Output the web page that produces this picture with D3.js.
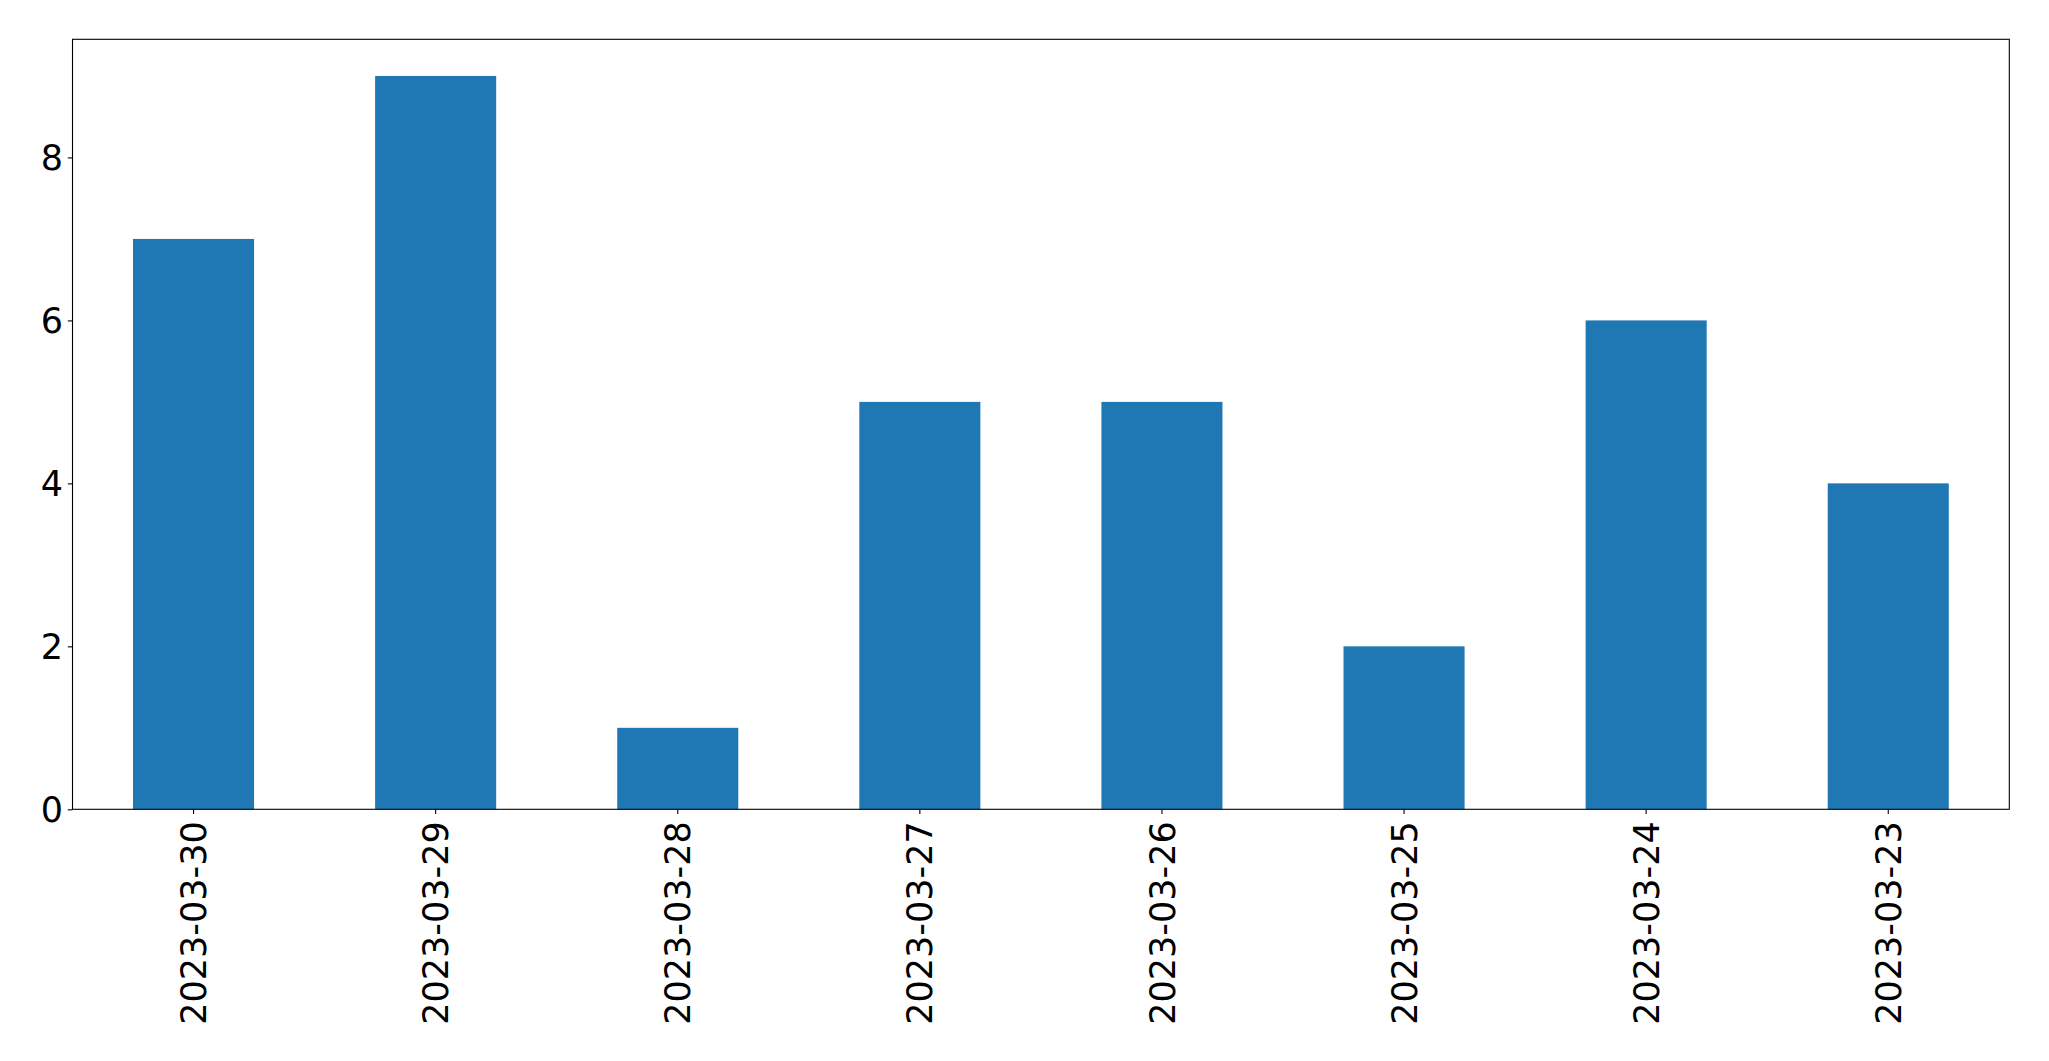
<!DOCTYPE html>
<html>
<head>
<meta charset="utf-8">
<script src="https://cdn.jsdelivr.net/npm/d3@7"></script>
<style>
  body { margin: 0; background: #fff; }
  text { font-family: "DejaVu Sans", sans-serif; fill: #000; }
</style>
</head>
<body>
<div id="chart"></div>
<script>
"use strict";

// data
var dates = ["2023-03-30", "2023-03-29", "2023-03-28", "2023-03-27",
             "2023-03-26", "2023-03-25", "2023-03-24", "2023-03-23"];
var counts = [7, 9, 1, 5, 5, 2, 6, 4];
var yTicks = [0, 2, 4, 6, 8];

var W = 2049, H = 1061;
var margin = {top: 39.3, right: 2049 - 2009.3, bottom: 1061 - 809.3, left: 72.5},
    width = W - margin.left - margin.right,
    height = H - margin.top - margin.bottom;

var svg = d3.select("#chart").append("svg")
    .attr("width", W)
    .attr("height", H)
  .append("g")
    .attr("transform", "translate(" + margin.left + "," + margin.top + ")");

var x = d3.scaleBand()
    .domain(dates)
    .range([0, width])
    .paddingInner(0.5)
    .paddingOuter(0.25);

var y = d3.scaleLinear()
    .domain([0, d3.max(counts) * 1.05])
    .range([height, 0]);

// bars
svg.selectAll(".bar")
    .data(dates)
  .enter().append("rect")
    .attr("class", "bar")
    .attr("x", function(d) { return x(d); })
    .attr("width", x.bandwidth())
    .attr("y", function(d, i) { return y(counts[i]); })
    .attr("height", function(d, i) { return height - y(counts[i]); })
    .attr("fill", "#1f77b4");

var fontSize = "35px";

// y axis
var yAxis = svg.append("g")
    .call(d3.axisLeft(y).tickValues(yTicks).tickFormat(d3.format("d"))
      .tickSize(4.7).tickPadding(4.7));
yAxis.select(".domain").remove();
yAxis.selectAll("line").attr("stroke", "#000").attr("stroke-width", 1.1);
yAxis.selectAll("text").style("font-size", fontSize).attr("dy", "0.35em");

// x axis
var xAxis = svg.append("g")
    .attr("transform", "translate(0," + height + ")")
    .call(d3.axisBottom(x).tickSize(4.7).tickPadding(0));
xAxis.select(".domain").remove();
xAxis.selectAll("line").attr("stroke", "#000").attr("stroke-width", 1.1);
xAxis.selectAll("text")
    .style("font-size", fontSize)
    .attr("text-anchor", "end")
    .attr("transform", "rotate(-90)")
    .attr("x", -12)
    .attr("y", 0)
    .attr("dy", "0.36em");

// frame
svg.append("rect")
    .attr("x", 0).attr("y", 0)
    .attr("width", width).attr("height", height)
    .attr("fill", "none")
    .attr("stroke", "#000")
    .attr("stroke-width", 1.1);
</script>
</body>
</html>
